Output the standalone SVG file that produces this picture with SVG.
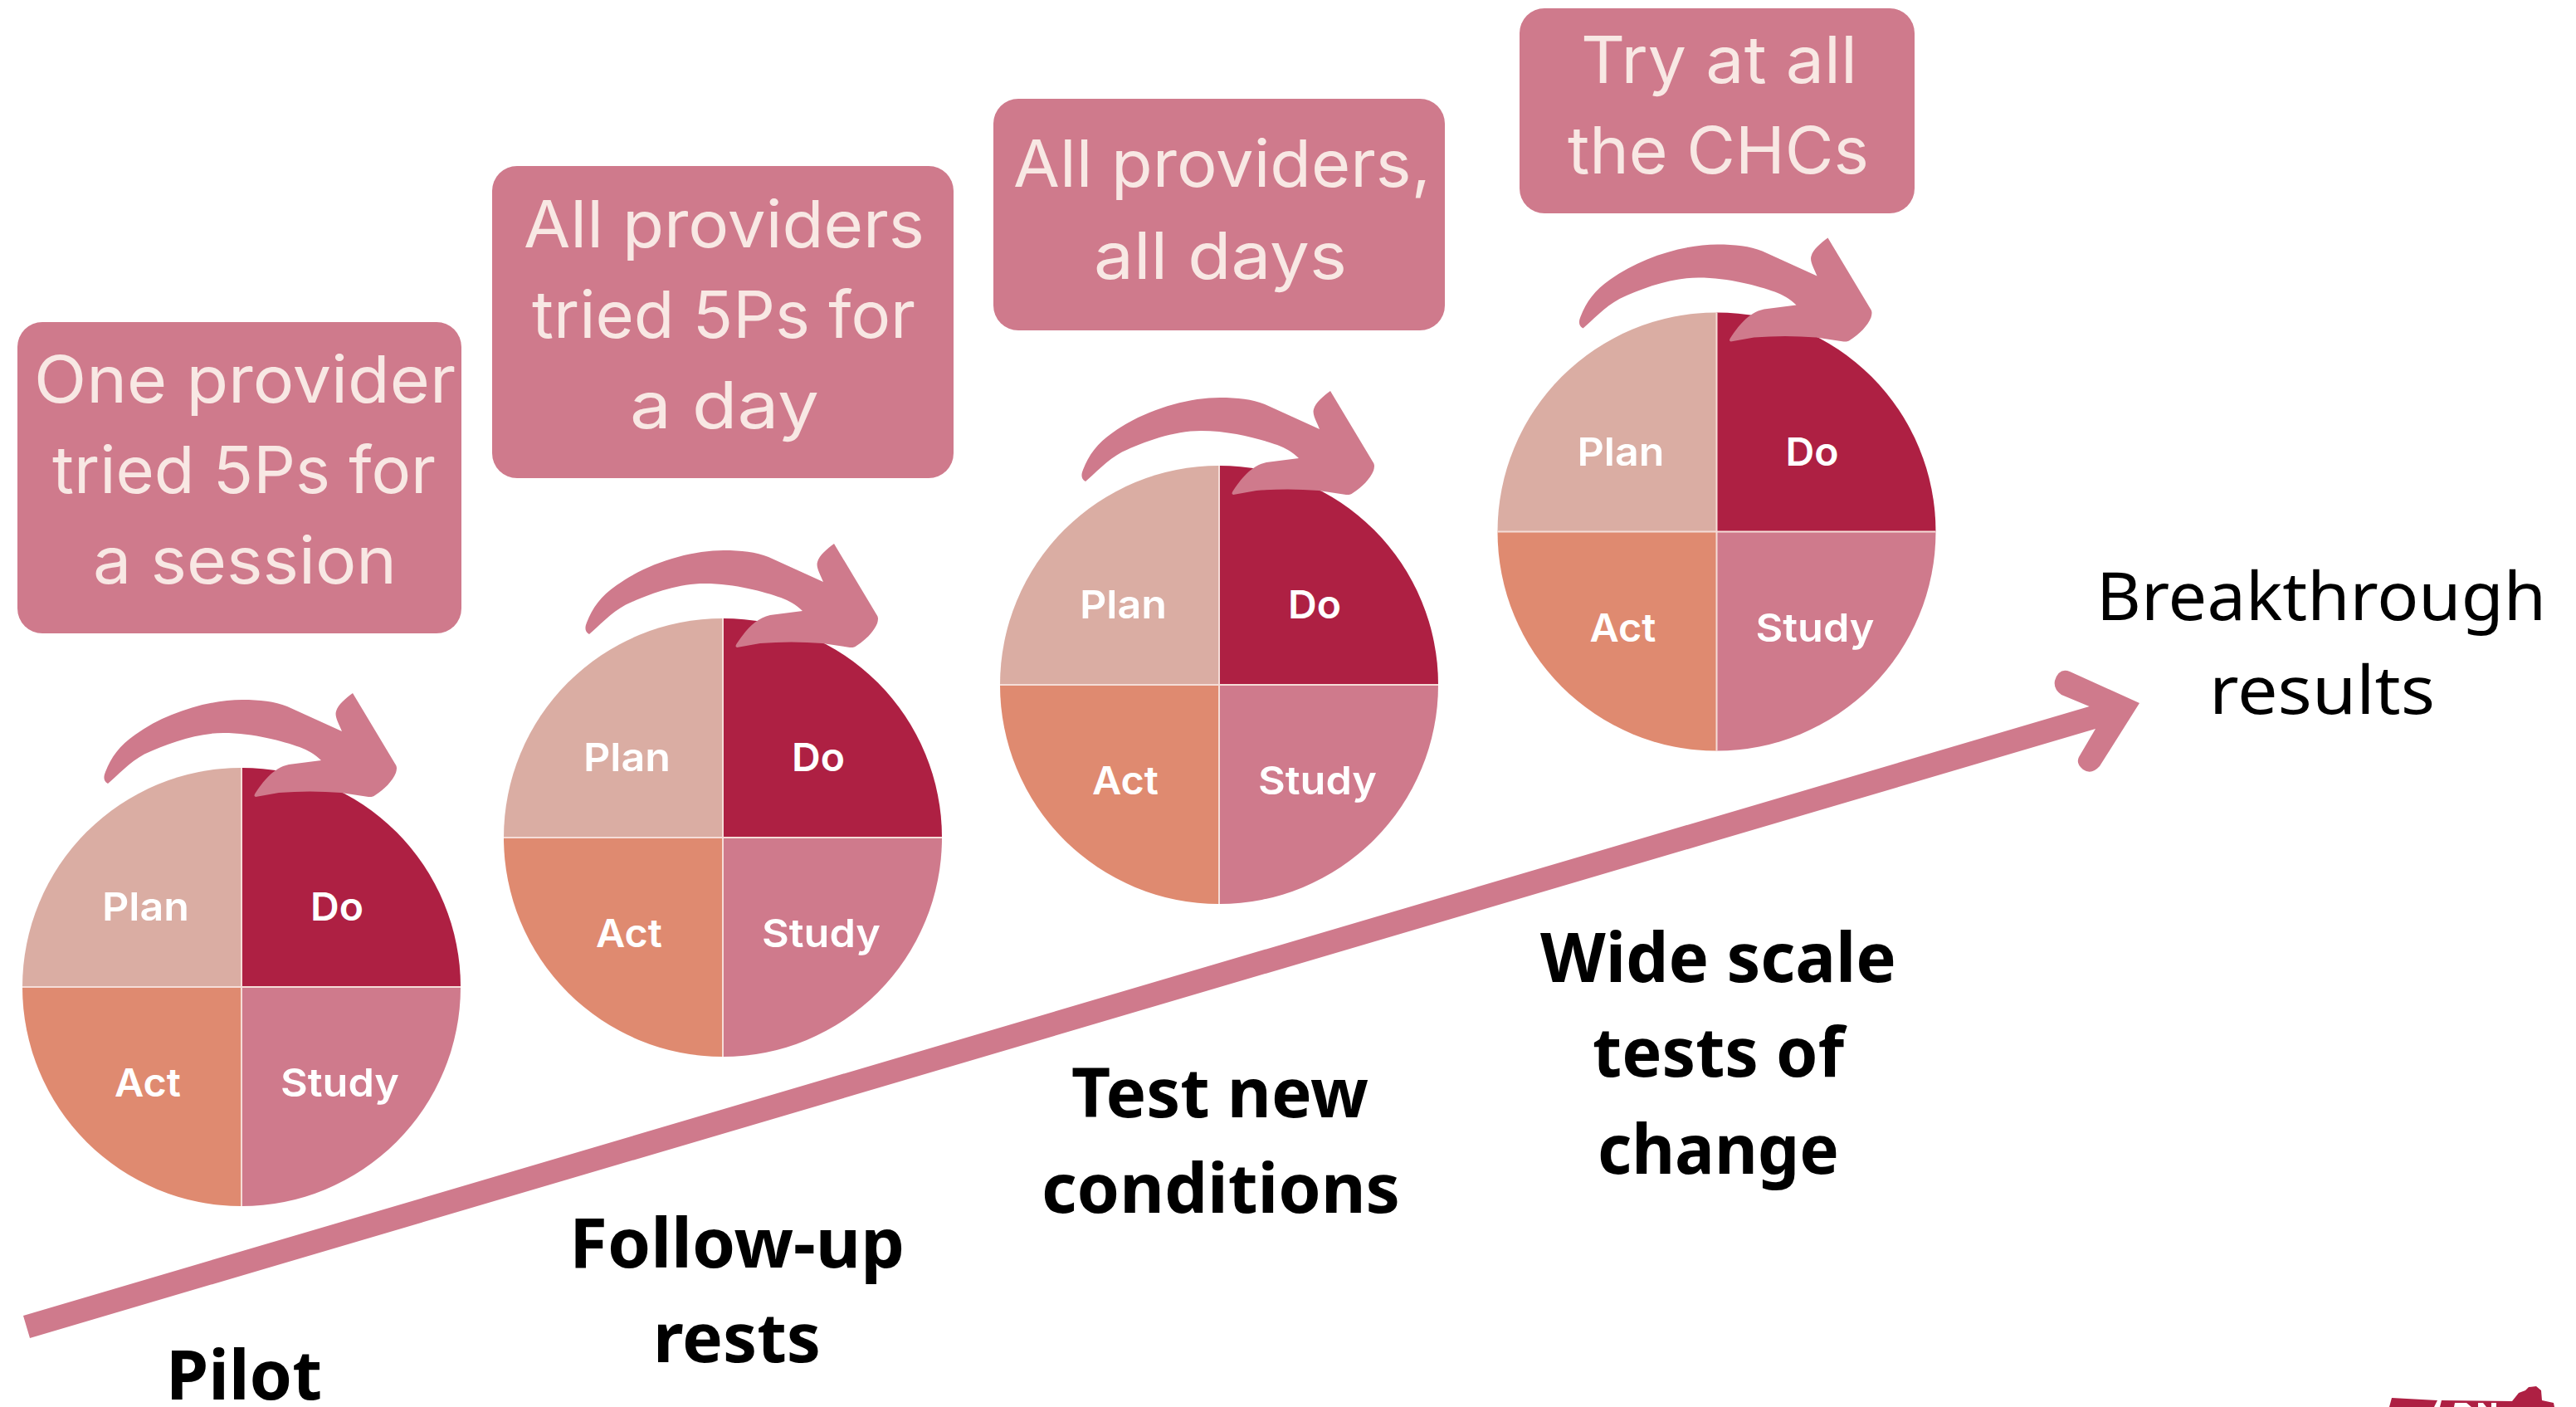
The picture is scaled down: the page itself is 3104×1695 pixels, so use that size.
<svg xmlns="http://www.w3.org/2000/svg" width="3104" height="1695" viewBox="0 0 3104 1695">
<style>
.box{fill:#CF7A8C}
.bt{font-family:"Inter","Open Sans",sans-serif;font-size:78px;font-weight:400;fill:#F8E8E4}
.lb{font-family:"Noto Sans","Open Sans",sans-serif;font-size:82px;font-weight:700;fill:#000}
.br{font-family:"Noto Sans","Open Sans",sans-serif;font-size:81px;font-weight:400;fill:#000}
.w{font-family:"Inter","Open Sans",sans-serif;font-size:47px;font-weight:600;fill:#fff}
.seam{stroke:#F5DDD8;stroke-width:2;fill:none}
</style>
<defs>
<g id="pie">
<path d="M0 0V-264A264 264 0 0 0 -264 0Z" fill="#DAADA3"/>
<path d="M0 0V-264A264 264 0 0 1 264 0Z" fill="#AE2043"/>
<path d="M0 0H-264A264 264 0 0 0 0 264Z" fill="#DF8A70"/>
<path d="M0 0H264A264 264 0 0 1 0 264Z" fill="#CF7A8C"/>
<path class="seam" d="M0 -264V264M-264 0H264"/>
<path fill="#CF7A8C" d="M-161 -245C-167 -248 -166 -254 -164 -259C-157 -277 -147 -291 -128 -304C-92 -330 -40 -346 1 -346C22 -346 40 -344 55 -338L121 -308C117 -318 112 -326 114 -332C116 -340 126 -348 134 -354L185 -269C188 -265 187 -262 186 -258C182 -248 172 -238 161 -231C158 -229 157 -229 153 -229L120 -234C95 -236 70 -236 45 -234L17 -229C15 -230 15 -231 17 -234C25 -246 38 -264 57 -268L96 -273C88 -281 80 -285 70 -289C50 -296 15 -306 -22 -306C-55 -306 -90 -293 -117 -280.5C-135 -271 -150 -254 -161 -245Z"/>
</g>
</defs>
<rect width="3104" height="1695" fill="#fff"/>
<g id="connectors">
<path fill="#CF7A8C" d="M28 1585L2517.6 851L2484 837Q2474 830 2476 820Q2481 804 2494 809L2578 847L2530 923Q2520 934 2510 927Q2501 920 2505 912L2525 878L36 1612Z"/>
</g>
<g id="box-1">
<rect class="box" x="21" y="388" width="535" height="375" rx="30"/>
<text class="bt" x="41" y="485" textLength="508" lengthAdjust="spacingAndGlyphs">One provider</text>
<text class="bt" x="63" y="594" textLength="462" lengthAdjust="spacingAndGlyphs">tried 5Ps for</text>
<text class="bt" x="112" y="703" textLength="366" lengthAdjust="spacingAndGlyphs">a session</text>
</g>
<g id="box-2">
<rect class="box" x="593" y="200" width="556" height="376" rx="30"/>
<text class="bt" x="631" y="298" textLength="483" lengthAdjust="spacingAndGlyphs">All providers</text>
<text class="bt" x="641" y="407" textLength="462" lengthAdjust="spacingAndGlyphs">tried 5Ps for</text>
<text class="bt" x="759" y="516" textLength="228" lengthAdjust="spacingAndGlyphs">a day</text>
</g>
<g id="box-3">
<rect class="box" x="1197" y="119" width="544" height="279" rx="30"/>
<text class="bt" x="1221" y="225" textLength="503" lengthAdjust="spacingAndGlyphs">All providers,</text>
<text class="bt" x="1318" y="336" textLength="305" lengthAdjust="spacingAndGlyphs">all days</text>
</g>
<g id="box-4">
<rect class="box" x="1831" y="10" width="476" height="247" rx="30"/>
<text class="bt" x="1905" y="100" textLength="333" lengthAdjust="spacingAndGlyphs">Try at all</text>
<text class="bt" x="1889" y="209" textLength="363" lengthAdjust="spacingAndGlyphs">the CHCs</text>
</g>
<g id="cycle-1" transform="translate(291 1189)">
<use href="#pie"/>
<text class="w" x="-168" y="-80" textLength="105" lengthAdjust="spacingAndGlyphs">Plan</text>
<text class="w" x="83" y="-80" textLength="64" lengthAdjust="spacingAndGlyphs">Do</text>
<text class="w" x="-153" y="132" textLength="80" lengthAdjust="spacingAndGlyphs">Act</text>
<text class="w" x="47" y="132" textLength="143" lengthAdjust="spacingAndGlyphs">Study</text>
</g>
<g id="cycle-2" transform="translate(871 1009)">
<use href="#pie"/>
<text class="w" x="-168" y="-80" textLength="105" lengthAdjust="spacingAndGlyphs">Plan</text>
<text class="w" x="83" y="-80" textLength="64" lengthAdjust="spacingAndGlyphs">Do</text>
<text class="w" x="-153" y="132" textLength="80" lengthAdjust="spacingAndGlyphs">Act</text>
<text class="w" x="47" y="132" textLength="143" lengthAdjust="spacingAndGlyphs">Study</text>
</g>
<g id="cycle-3" transform="translate(1469 825)">
<use href="#pie"/>
<text class="w" x="-168" y="-80" textLength="105" lengthAdjust="spacingAndGlyphs">Plan</text>
<text class="w" x="83" y="-80" textLength="64" lengthAdjust="spacingAndGlyphs">Do</text>
<text class="w" x="-153" y="132" textLength="80" lengthAdjust="spacingAndGlyphs">Act</text>
<text class="w" x="47" y="132" textLength="143" lengthAdjust="spacingAndGlyphs">Study</text>
</g>
<g id="cycle-4" transform="translate(2068.5 640.5)">
<use href="#pie"/>
<text class="w" x="-168" y="-80" textLength="105" lengthAdjust="spacingAndGlyphs">Plan</text>
<text class="w" x="83" y="-80" textLength="64" lengthAdjust="spacingAndGlyphs">Do</text>
<text class="w" x="-153" y="132" textLength="80" lengthAdjust="spacingAndGlyphs">Act</text>
<text class="w" x="47" y="132" textLength="143" lengthAdjust="spacingAndGlyphs">Study</text>
</g>
<g id="stage-1"><text class="lb" x="200" y="1686" textLength="188" lengthAdjust="spacingAndGlyphs">Pilot</text></g>
<g id="stage-2">
<text class="lb" x="686" y="1527" textLength="404" lengthAdjust="spacingAndGlyphs">Follow-up</text>
<text class="lb" x="787" y="1641" textLength="202" lengthAdjust="spacingAndGlyphs">rests</text>
</g>
<g id="stage-3">
<text class="lb" x="1291" y="1346" textLength="358" lengthAdjust="spacingAndGlyphs">Test new</text>
<text class="lb" x="1255" y="1461" textLength="432" lengthAdjust="spacingAndGlyphs">conditions</text>
</g>
<g id="stage-4">
<text class="lb" x="1856" y="1183" textLength="429" lengthAdjust="spacingAndGlyphs">Wide scale</text>
<text class="lb" x="1919" y="1297" textLength="303" lengthAdjust="spacingAndGlyphs">tests of</text>
<text class="lb" x="1925" y="1414" textLength="291" lengthAdjust="spacingAndGlyphs">change</text>
</g>
<g id="result">
<text class="br" x="2526" y="747" textLength="542" lengthAdjust="spacingAndGlyphs">Breakthrough</text>
<text class="br" x="2662" y="860" textLength="272" lengthAdjust="spacingAndGlyphs">results</text>
</g>
<g id="logo">
<path fill="#AE2043" d="M2879 1695L2882 1684L2937 1687L2933 1695ZM2940 1695L2942 1687L3027 1688L3035 1678L3043 1675L3047 1671L3056 1670L3062 1675L3063 1687L3077 1690L3078 1695Z"/>
<path fill="#fff" d="M2957 1695L2958 1690H2972L2978 1695ZM2986 1695V1690H2992L2996 1695ZM3002 1695V1690H3008V1695Z"/>
</g>
</svg>
